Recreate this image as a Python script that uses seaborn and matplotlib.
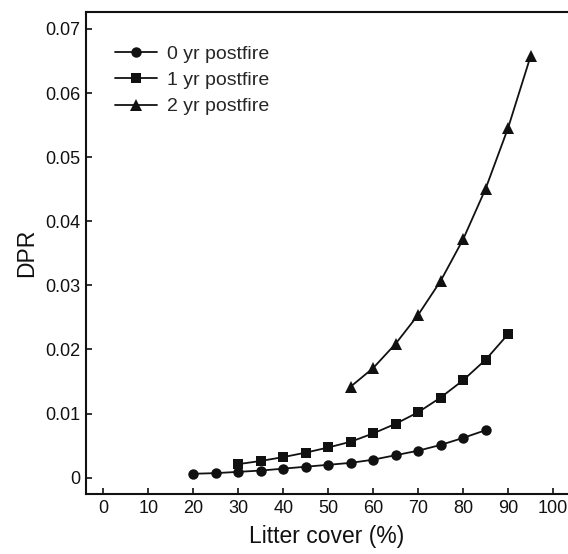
import matplotlib
matplotlib.use("Agg")
import matplotlib.pyplot as plt
import seaborn as sns
import pandas as pd

x0 = [20, 25, 30, 35, 40, 45, 50, 55, 60, 65, 70, 75, 80, 85]
y0 = [0.0006, 0.0007, 0.0009, 0.0011, 0.0014, 0.0017, 0.0020, 0.0023, 0.0028, 0.0035, 0.0042, 0.0051, 0.0062, 0.0074]
x1 = [30, 35, 40, 45, 50, 55, 60, 65, 70, 75, 80, 85, 90]
y1 = [0.0021, 0.0026, 0.0032, 0.0039, 0.0047, 0.0056, 0.0069, 0.0084, 0.0102, 0.0125, 0.0152, 0.0184, 0.0224]
x2 = [55, 60, 65, 70, 75, 80, 85, 90, 95]
y2 = [0.0142, 0.0171, 0.0209, 0.0254, 0.0307, 0.0372, 0.0451, 0.0546, 0.0658]
labels = ["0 yr postfire", "1 yr postfire", "2 yr postfire"]
xticks = [0, 10, 20, 30, 40, 50, 60, 70, 80, 90, 100]
yticks = [0, 0.01, 0.02, 0.03, 0.04, 0.05, 0.06, 0.07]
yticklabels = ["0", "0.01", "0.02", "0.03", "0.04", "0.05", "0.06", "0.07"]

df = pd.concat([
    pd.DataFrame({"x": x0, "y": y0, "s": labels[0]}),
    pd.DataFrame({"x": x1, "y": y1, "s": labels[1]}),
    pd.DataFrame({"x": x2, "y": y2, "s": labels[2]}),
])

sns.set_style("ticks")
plt.rcParams["font.family"] = ["Liberation Sans", "DejaVu Sans"]

fig = plt.figure(figsize=(5.68, 5.54), dpi=100)
ax = fig.add_axes([0.1509, 0.1078, 0.8491, 0.8711])

markers = {labels[0]: "o", labels[1]: "s", labels[2]: "^"}
sizes_ms = {labels[0]: 7.5, labels[1]: 7.5, labels[2]: 8.5}
for lab in labels:
    sub = df[df["s"] == lab]
    sns.lineplot(data=sub, x="x", y="y", ax=ax, color="#111111", marker=markers[lab],
                 markersize=sizes_ms[lab], markeredgewidth=0, linewidth=1.3, label=lab)

ax.set_xlim(-3.9, 103.3)
ax.set_ylim(-0.0026, 0.0727)
ax.set_xticks(xticks)
ax.set_xticklabels([str(t) for t in xticks])
ax.set_yticks(yticks)
ax.set_yticklabels(yticklabels)
ax.tick_params(direction="in", length=4.5, width=1.2, colors="#111111", labelsize=13, pad=4)
ax.set_xlabel("Litter cover (%)", fontsize=16.5, color="#111111", labelpad=6)
ax.set_ylabel("DPR", fontsize=16.5, color="#111111", labelpad=5)
for side in ["left", "bottom", "top"]:
    ax.spines[side].set_linewidth(1.5)
    ax.spines[side].set_color("#111111")
ax.spines["right"].set_visible(False)

leg = ax.legend(loc="upper left", bbox_to_anchor=(0.0607, 0.931), frameon=False, fontsize=14,
                handlelength=2.15, handletextpad=0.5, labelspacing=0.45,
                borderaxespad=0.0, borderpad=0.0)

fig.savefig("out.png", dpi=100)
